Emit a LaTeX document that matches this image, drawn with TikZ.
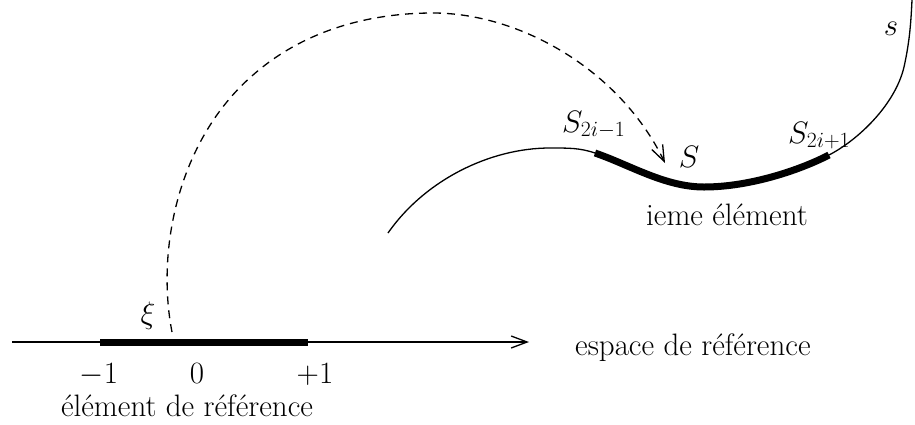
\RequirePackage{fix-cm}
\documentclass[tikz,border=0pt]{standalone}
\usetikzlibrary{arrows.meta}
\begin{document}
\begin{tikzpicture}[x=1pt,y=-1pt,
  every node/.style={font=\fontsize{31}{37}\selectfont, inner sep=0pt},
  thin line/.style={line width=1.3pt},
  thick part/.style={line width=7pt},
  barb/.style={-{Straight Barb[length=16pt,width=12pt,line width=1.3pt]}},
  dashline/.style={line width=1.3pt, dash pattern=on 8pt off 6pt}]
\useasboundingbox (0,0) rectangle (915,424);
% reference axis
\coordinate (axL) at (12,342);
\coordinate (axR) at (529,342);
\coordinate (m1) at (100,342);
\coordinate (p1) at (308,342);
\draw[thin line, barb] (axL) -- (axR);
\draw[thick part] (m1) -- (p1);
\node[anchor=base] (lm1) at (99,383) {$-1$};
\node[anchor=base] (l0) at (197,383) {$0$};
\node[anchor=base] (lp1) at (315,383) {$+1$};
\node[anchor=base] (elref) at (187,416) {élément de référence};
\node[anchor=base west] (espace) at (575,355) {espace de référence};
\node (xi) at (148,316) {$\xi$};
% physical curve
\coordinate (A) at (388,233);
\coordinate (B) at (550,148);
\coordinate (C) at (595,153);
\coordinate (D) at (704,187);
\coordinate (E) at (829,155);
\coordinate (G) at (904,67);
\coordinate (H) at (912,0);
\draw[thin line] (A) .. controls (425,180) and (490,148) .. (B)
  .. controls (570,148) and (580,148) .. (C);
\draw[thick part] (C) .. controls (630,165) and (665,187) .. (D)
  .. controls (750,187) and (800,170) .. (E);
\draw[thin line] (E) .. controls (858,140) and (895,105) .. (G)
  .. controls (910,40) and (911,20) .. (H);
\node[anchor=base west] (s2im1) at (562,132) {$S_{2i-1}$};
\node[anchor=base] (Slab) at (689,167) {$S$};
\node[anchor=base west] (s2ip1) at (788,143) {$S_{2i+1}$};
\node[anchor=base] (slab) at (891,35) {$s$};
\node[anchor=base] (ieme) at (727,225) {ieme élément};
% mapping
\coordinate (xi0) at (172,332);
\coordinate (M) at (253,75);
\coordinate (T) at (433,13);
\coordinate (Spt) at (665,163);
\draw[dashline, barb] (xi0) .. controls (156,250) and (178,140) .. (M)
  .. controls (310,25) and (380,13) .. (T)
  .. controls (520,13) and (620,70) .. (Spt);
\end{tikzpicture}
\end{document}
